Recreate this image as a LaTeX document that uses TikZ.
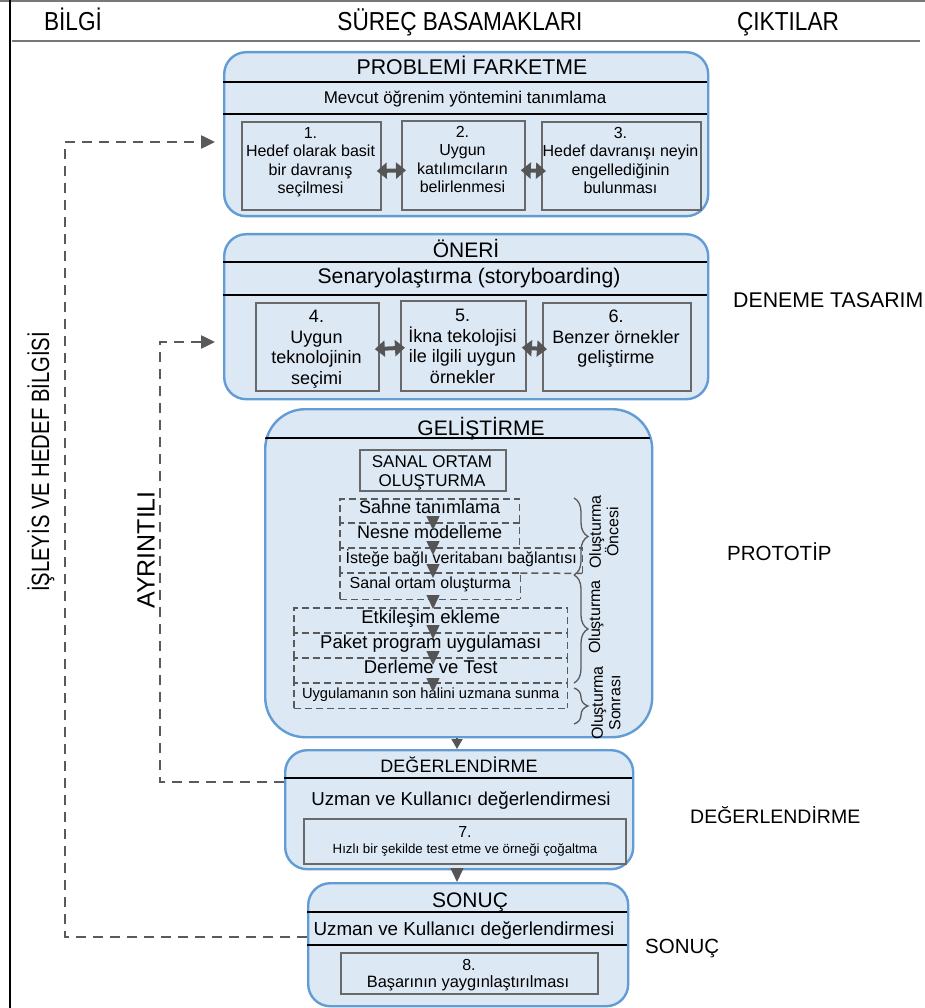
\documentclass[tikz,border=0pt]{standalone}
\usepackage{fontspec}
\setmainfont{Liberation Sans}
\usetikzlibrary{arrows.meta,calc,decorations.pathreplacing}

\definecolor{panelfill}{RGB}{221,232,245}
\definecolor{panelline}{RGB}{98,156,213}
\definecolor{boxline}{RGB}{105,105,105}
\definecolor{dashgray}{RGB}{90,90,90}
\definecolor{arrowgray}{RGB}{85,85,85}
\definecolor{rulegray}{RGB}{120,120,120}

\newcommand{\fsz}[2]{\fontsize{#1}{#2}\selectfont}
\newcommand{\narrowtext}[2]{\scalebox{#1}[1]{#2}}

\tikzset{
  panel/.style={draw=panelline, line width=2.4pt, fill=panelfill, rounded corners=22pt, inner sep=0pt, anchor=north west},
  divider/.style={draw=black, line width=1.1pt},
  stepbox/.style={draw=boxline, line width=1.8pt, fill=panelfill, inner sep=0pt, anchor=north west},
  dashbox/.style={inner sep=0pt, anchor=north west, text height=0.72em, text depth=0.21em},
  dashedge/.style={draw=dashgray, line width=1.5pt, dash pattern=on 7pt off 4pt},
  txt/.style={inner sep=0pt, align=center, text=black},
  dblarrow/.style={draw=arrowgray, line width=4pt, shorten <=-5pt, shorten >=-5pt, {Triangle[length=10pt,width=16pt]}-{Triangle[length=10pt,width=16pt]}},
  downarrow/.style={draw=arrowgray, line width=1.5pt, -{Triangle[length=14pt,width=13pt]}},
  smallarrow/.style={draw=arrowgray, line width=1.5pt, -{Triangle[length=10pt,width=11pt]}},
  feedback/.style={draw=dashgray, line width=2.5pt, dash pattern=on 10pt off 7pt, shorten >=8pt, -{Triangle[length=14pt,width=13pt]}},
  bracebar/.style={draw=dashgray, line width=1.3pt, decorate, decoration={brace, amplitude=14pt}},
}

\begin{document}
\begin{tikzpicture}[x=1pt, y=-1pt]
\useasboundingbox (0,0) rectangle (925,1008);

% page rules and column headers
\draw[rulegray, line width=1.2pt] (0,1) -- (925,1);
\draw[black, line width=1.5pt] (10,0) -- (10,1008);
\draw[rulegray, line width=1.2pt] (12,41) -- (920,41);
\node[txt, anchor=base, font=\fsz{26}{30}] (hinfo) at (73,31) {\narrowtext{0.87}{BİLGİ}};
\node[txt, anchor=base, font=\fsz{26}{30}] (hsteps) at (460,31) {\narrowtext{0.87}{SÜREÇ BASAMAKLARI}};
\node[txt, anchor=base, font=\fsz{26}{30}] (hout) at (788,31) {\narrowtext{0.87}{ÇIKTILAR}};

% ---------- PROBLEMİ FARKETME ----------
\node[panel, minimum width=484pt, minimum height=164pt] (f1) at (223,51) {};
\draw[divider] (223,82) -- (707,82);
\draw[divider] (223,114) -- (707,114);
\node[txt, anchor=base, font=\fsz{21.3}{24}] (f1title) at (472,75) {PROBLEMİ FARKETME};
\node[txt, anchor=base, font=\fsz{17}{20}] (f1sub) at (465,104) {Mevcut öğrenim yöntemini tanımlama};
\node[stepbox, minimum width=139pt, minimum height=88pt] (b1) at (241,121) {};
\node[stepbox, minimum width=123pt, minimum height=89pt] (b2) at (401,120) {};
\node[stepbox, minimum width=159pt, minimum height=88pt] (b3) at (541,121) {};
\node[txt, anchor=north, font=\fsz{16}{18.5}] (b1t) at (310.5,127) {1.\\Hedef olarak basit\\bir davranış\\seçilmesi};
\node[txt, anchor=north, font=\fsz{16}{18.5}] (b2t) at (462.5,126) {2.\\Uygun\\katılımcıların\\belirlenmesi};
\node[txt, anchor=north, font=\fsz{16}{18.5}] (b3t) at (620.5,127) {3.\\Hedef davranışı neyin\\engellediğinin\\bulunması};
\draw[dblarrow] ($(b1.east)+(0,5)$) -- ($(b2.west)+(0,5)$);
\draw[dblarrow] ($(b2.east)+(0,5)$) -- ($(b3.west)+(0,5)$);

% ---------- ÖNERİ ----------
\node[panel, minimum width=484pt, minimum height=165pt] (f2) at (223,233) {};
\draw[divider] (223,262) -- (707,262);
\draw[divider] (223,295) -- (707,295);
\node[txt, anchor=base, font=\fsz{21}{24}] (f2title) at (466,258) {ÖNERİ};
\node[txt, anchor=base, font=\fsz{21.2}{24}] (f2sub) at (469,283) {Senaryolaştırma (storyboarding)};
\node[stepbox, minimum width=123pt, minimum height=88pt] (b4) at (255,302) {};
\node[stepbox, minimum width=125pt, minimum height=90pt] (b5) at (400,300) {};
\node[stepbox, minimum width=148pt, minimum height=88pt] (b6) at (542,302) {};
\node[txt, anchor=north, font=\fsz{18}{20.5}] (b4t) at (316.5,310) {4.\\Uygun\\teknolojinin\\seçimi};
\node[txt, anchor=north, font=\fsz{18}{20.5}] (b5t) at (462.5,309) {5.\\İkna tekolojisi\\ile ilgili uygun\\örnekler};
\node[txt, anchor=north, font=\fsz{18}{20.5}] (b6t) at (616,310) {6.\\Benzer örnekler\\geliştirme};
\draw[dblarrow] ($(b4.east)+(0,2)$) -- ($(b5.west)+(0,2)$);
\draw[dblarrow] ($(b5.east)+(0,2)$) -- ($(b6.west)+(0,2)$);

% ---------- GELİŞTİRME ----------
\node[panel, rounded corners=40pt, minimum width=387pt, minimum height=328pt] (f3) at (264,408) {};
\begin{scope}
  \clip[rounded corners=40pt] (264,408) rectangle (651,736);
  \draw[divider] (264,438) -- (651,438);
\end{scope}
\node[txt, anchor=base, font=\fsz{21}{24}] (f3title) at (481,435) {GELİŞTİRME};
\node[stepbox, minimum width=146pt, minimum height=41pt] (venv) at (359,449) {};
\node[txt, anchor=north, font=\fsz{17}{19}] (venvt) at (432,455) {SANAL ORTAM\\OLUŞTURMA};

% creation steps (dashed boxes stacked on one another)
\node[dashbox, minimum width=179pt, minimum height=24pt, font=\fsz{18}{20}] (d1) at (340,499) {Sahne tanımlama};
\node[dashbox, minimum width=179pt, minimum height=25pt, font=\fsz{18}{20}] (d2) at (340,523) {Nesne modelleme};
\node[dashbox, minimum width=242pt, minimum height=25pt, font=\fsz{16}{18}] (d3) at (340,548) {İsteğe bağlı veritabanı bağlantısı};
\node[dashbox, minimum width=180pt, minimum height=26pt, font=\fsz{16}{18}] (d4) at (340,573) {Sanal ortam oluşturma};
\node[dashbox, minimum width=273pt, minimum height=25pt, font=\fsz{18.5}{20}] (d5) at (294,608) {Etkileşim ekleme};
\node[dashbox, minimum width=273pt, minimum height=25pt, font=\fsz{18.5}{20}] (d6) at (294,633) {Paket program uygulaması};
\node[dashbox, minimum width=273pt, minimum height=25pt, font=\fsz{18.5}{20}] (d7) at (294,658) {Derleme ve Test};
\node[dashbox, minimum width=273pt, minimum height=25pt, font=\fsz{14.7}{17}] (d8) at (294,683) {Uygulamanın son halini uzmana sunma};
\foreach \b in {d1,d2,d3,d4,d5,d6,d7,d8}
  \draw[dashedge] (\b.south west) -- (\b.north west) -- (\b.north east) -- (\b.south east);
\draw[dashedge] (d3.south east) -- (d4.north east);
\draw[dashedge] (d4.south west) -- (d4.south east);
\draw[dashedge] (d8.south west) -- (d8.south east);

\coordinate (ax) at (433,0);
\draw[downarrow] ($(d1.south -| ax)+(0,-7)$) -- ($(d2.north -| ax)+(0,7)$);
\draw[downarrow] ($(d2.south -| ax)+(0,-7)$) -- ($(d3.north -| ax)+(0,7)$);
\draw[downarrow] ($(d3.south -| ax)+(0,-9)$) -- ($(d4.north -| ax)+(0,5)$);
\draw[downarrow] ($(d4.south -| ax)+(0,-4)$) -- ($(d5.north -| ax)+(0,1)$);
\draw[downarrow] ($(d5.south -| ax)+(0,-8)$) -- ($(d6.north -| ax)+(0,6)$);
\draw[downarrow] ($(d6.south -| ax)+(0,-7)$) -- ($(d7.north -| ax)+(0,7)$);
\draw[downarrow] ($(d7.south -| ax)+(0,-5)$) -- ($(d8.north -| ax)+(0,9)$);

% phase braces
\draw[bracebar] (574,498) -- (574,575);
\draw[bracebar] (574,575) -- (574,683);
\draw[bracebar] (574,688) -- (574,724);
\node[txt, rotate=90, font=\fsz{16}{17.5}] (phpre) at (604,532) {Oluşturma\\Öncesi};
\node[txt, rotate=90, font=\fsz{16}{17.5}] (phmain) at (596,617) {Oluşturma};
\node[txt, rotate=90, font=\fsz{16}{17.5}] (phpost) at (606,703) {Oluşturma\\Sonrası};

% ---------- DEĞERLENDİRME ----------
\node[panel, minimum width=348pt, minimum height=119pt] (f4) at (284,749) {};
\draw[divider] (284,778) -- (632,778);
\node[txt, anchor=base, font=\fsz{18}{22}] (f4title) at (459,772) {DEĞERLENDİRME};
\node[txt, anchor=base, font=\fsz{18.7}{22}] (f4sub) at (461,805) {Uzman ve Kullanıcı değerlendirmesi};
\node[stepbox, minimum width=322pt, minimum height=45pt] (b7) at (303,818) {};
\node[txt, anchor=base, font=\fsz{16}{18}] (b7n) at (465,837) {7.};
\node[txt, anchor=base, font=\fsz{13.3}{16}] (b7t) at (465,853) {Hızlı bir şekilde test etme ve örneği çoğaltma};

% ---------- SONUÇ ----------
\node[panel, minimum width=320pt, minimum height=123pt] (f5) at (307,882) {};
\draw[divider] (307,912) -- (627,912);
\draw[divider] (307,945) -- (627,945);
\node[txt, anchor=base, font=\fsz{21}{24}] (f5title) at (470,907) {SONUÇ};
\node[txt, anchor=base, font=\fsz{18.8}{22}] (f5sub) at (464,935) {Uzman ve Kullanıcı değerlendirmesi};
\node[stepbox, minimum width=257pt, minimum height=41pt] (b8) at (340,952) {};
\node[txt, anchor=base, font=\fsz{16}{18}] (b8n) at (469,970) {8.};
\node[txt, anchor=base, font=\fsz{16.4}{18}] (b8t) at (468,987) {Başarının yaygınlaştırılması};

% flow between stages
\coordinate (fx) at (457,0);
\draw[smallarrow] (f3.south -| fx) -- (f4.north -| fx);
\draw[downarrow] (f4.south -| fx) -- (f5.north -| fx);

% feedback loops on the left
\coordinate (o1) at (65,937);
\coordinate (o2) at (65,142);
\draw[feedback] (f5.west |- o1) -- (o1) -- (o2) -- (f1.west |- o2);
\coordinate (i1) at (160,782);
\coordinate (i2) at (160,342);
\draw[feedback] (f4.west |- i1) -- (i1) -- (i2) -- (f2.west |- i2);
\node[txt, rotate=90, font=\fsz{25}{28}] (lblproc) at (41,462) {\narrowtext{0.81}{İŞLEYİS VE HEDEF BİLGİSİ}};
\node[txt, rotate=90, font=\fsz{25}{28}] (lbldetail) at (146,550) {AYRINTILI};

% outputs column
\node[txt, anchor=base west, font=\fsz{21.3}{24}] (out1) at (733,307) {DENEME TASARIM};
\node[txt, anchor=base west, font=\fsz{20.5}{24}] (out2) at (727,560) {PROTOTİP};
\node[txt, anchor=base west, font=\fsz{19.5}{24}] (out3) at (690,823) {DEĞERLENDİRME};
\node[txt, anchor=base west, font=\fsz{20.5}{24}] (out4) at (645,953) {SONUÇ};
\end{tikzpicture}
\end{document}
